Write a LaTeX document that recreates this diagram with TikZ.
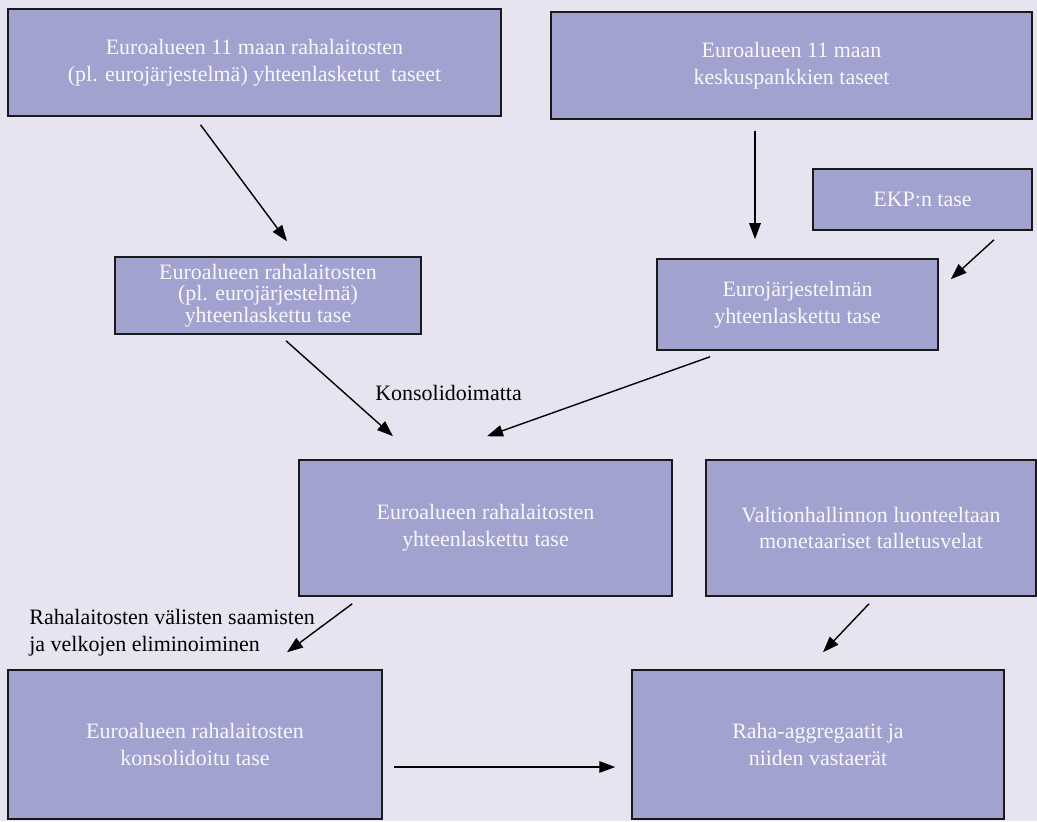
\documentclass[tikz,border=0pt]{standalone}
\usepackage{fontspec}
\setmainfont{Liberation Serif}
\usetikzlibrary{arrows.meta,calc}
\definecolor{bgcol}{HTML}{E6E4F0}
\definecolor{boxcol}{HTML}{A1A2CF}
\definecolor{txtcol}{HTML}{F8F8FA}
\tikzset{
  box/.style={draw=black!90, line width=0.9pt, fill=boxcol, text=txtcol, align=center, inner sep=0pt, font={\fontsize{12.5}{15.2}\selectfont}},
  lbl/.style={inner sep=0pt, align=left, font={\fontsize{12.5}{15.2}\selectfont}},
  arr/.style={-{Triangle[length=0.32cm,width=0.23cm]}, line width=0.8pt}
}

\begin{document}
\begin{tikzpicture}[x=0.02cm,y=-0.02cm]
            \fill[bgcol] (0,0) rectangle (1037,821);
            \useasboundingbox (0,0) rectangle (1037,821);
            \node[box, minimum width=9.86cm, minimum height=2.14cm] at (254.5,62.5) (b1) {Euroalueen 11 maan rahalaitosten\\(pl. eurojärjestelmä) yhteenlasketut~ taseet};
            \node[box, minimum width=9.62cm, minimum height=2.14cm] at (791.5,65.5) (b2) {Euroalueen 11 maan\\keskuspankkien taseet};
            \node[box, minimum width=4.38cm, minimum height=1.22cm] at (922.5,199.5) (b3) {EKP:n tase};
            \node[box, minimum width=6.12cm, minimum height=1.54cm, font={\fontsize{12.5}{12.3}\selectfont}] at (268,295.5) (b4) {Euroalueen rahalaitosten\\(pl. eurojärjestelmä)\\yhteenlaskettu tase};
            \node[box, minimum width=5.62cm, minimum height=1.82cm] at (797.5,304.5) (b5) {Eurojärjestelmän\\yhteenlaskettu tase};
            \node[box, minimum width=7.46cm, minimum height=2.72cm] at (485.5,528) (b6) {Euroalueen rahalaitosten\\yhteenlaskettu tase};
            \node[box, minimum width=6.6cm, minimum height=2.72cm] at (871,528) (b7) {Valtionhallinnon luonteeltaan\\monetaariset talletusvelat};
            \node[box, minimum width=7.48cm, minimum height=2.98cm] at (195,744.5) (b8) {Euroalueen rahalaitosten\\konsolidoitu tase};
            \node[box, minimum width=7.44cm, minimum height=2.98cm] at (818,744.5) (b9) {Raha-aggregaatit ja\\niiden vastaerät};
            \node[lbl, anchor=west] at (375,393) (kons) {Konsolidoimatta};
            \node[lbl, anchor=north west] at (29,609) (elim) {Rahalaitosten välisten saamisten\\ja velkojen eliminoiminen};
            \coordinate (s1) at ($(b1.south)+(-54,8)$);
            \coordinate (e1) at ($(b4.north)+(19,-15)$);
            \coordinate (s2) at ($(b2.south)+(-36.5,11)$);
            \coordinate (e2) at ($(b5.north)+(-42.5,-19)$);
            \coordinate (s3) at ($(b3.south)+(71.5,9)$);
            \coordinate (e3) at ($(b5.north east)+(12,21)$);
            \coordinate (s4) at ($(b4.south)+(18,6)$);
            \coordinate (e4) at ($(b6.north)+(-92.5,-23)$);
            \coordinate (s5) at ($(b5.south)+(-87.5,6)$);
            \coordinate (e5) at ($(b6.north)+(1.5,-23)$);
            \coordinate (s6) at ($(b6.south west)+(54,7)$);
            \coordinate (e6) at ($(b8.north)+(92,-17)$);
            \coordinate (s7) at ($(b7.south)+(-2,7)$);
            \coordinate (e7) at ($(b9.north)+(5,-17)$);
            \coordinate (s8) at ($(b8.east)+(11,22.5)$);
            \coordinate (e8) at ($(b9.west)+(-16,22.5)$);
            \foreach \n in {1,...,8}
            \draw[arr] (s\n) -- (e\n);
        \end{tikzpicture}
\end{document}
